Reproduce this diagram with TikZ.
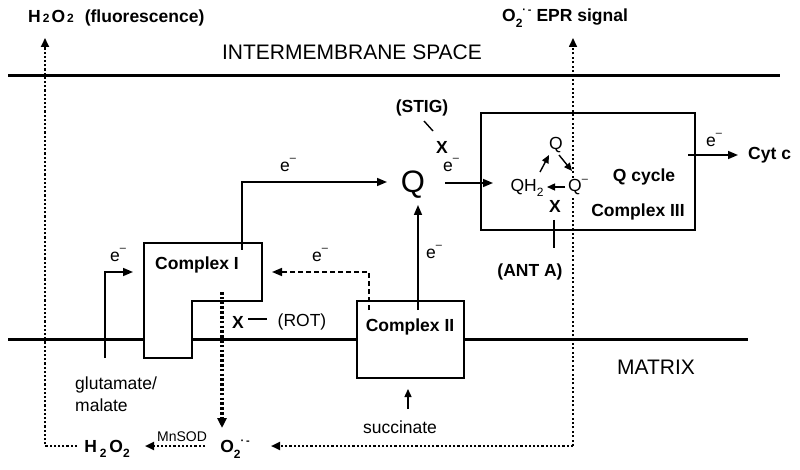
\documentclass[tikz,border=0pt]{standalone}
\usepackage{fontspec}
\setmainfont{Liberation Sans}
\usetikzlibrary{arrows.meta}
\newcommand\fs[1]{\fontsize{#1}{#1}\selectfont}
\newcommand\mysub[1]{\raisebox{-0.3em}{\fs{12}#1}}
\newcommand\mysup[1]{\raisebox{0.5em}{\fs{11}#1}}
\newcommand\elec{e\raisebox{0.55em}{\fs{11}\textendash}}
\newcommand\supox{O\mysub{2}\mysup{·\,-}}
\begin{document}
\begin{tikzpicture}[x=1pt,y=-1pt,
  lbl/.style={font=\fs{17.5}, inner sep=0pt},
  blbl/.style={font=\fs{17.5}\bfseries, inner sep=0pt},
  arr/.style={line width=1.6pt, -{Triangle[length=10pt,width=8pt]}},
  sarr/.style={line width=1.4pt, -{Triangle[length=8pt,width=7pt]}},
  membrane/.style={line width=3pt},
  cbox/.style={draw, line width=2.2pt, fill=white},
  dotsthick/.style={line width=2.2pt, dash pattern=on 2.2pt off 2pt},
  dotsthin/.style={line width=1.6pt, dash pattern=on 2pt off 2.4pt},
  inhib/.style={line width=1.4pt}]
\useasboundingbox (0,0) rectangle (800,470);
% membranes
\draw[membrane] (8,76) -- (780,76);
\draw[membrane] (8,339) -- (748,339);
\node[lbl, font=\fs{21}] (ims) at (352,52) {INTERMEMBRANE SPACE};
\node[lbl, font=\fs{21}] (matrix) at (656,367) {MATRIX};
% top labels
\node[blbl, anchor=west] (h2o2top) at (28,18) {H{\fs{12}\,2\,}O{\fs{12}\,2}\hspace{11pt}(fluorescence)};
\node[blbl, anchor=west] (eprtop) at (502,18) {\supox\ EPR signal};
% Complex I
\draw[cbox] (144,243) -- (262,243) -- (262,301) -- (192,301) -- (192,358) -- (144,358) -- cycle;
\node[blbl] (cI) at (197,265) {Complex I};
% Complex II
\node[cbox, minimum width=107pt, minimum height=77pt, inner sep=0pt] (cII) at (410.5,339.5) {};
\node[blbl] (cIIlbl) at (410,327) {Complex II};
% Complex III
\node[draw, line width=1.4pt, minimum width=214pt, minimum height=117pt, inner sep=0pt] (cIII) at (588,171.5) {};
\node[blbl] (qcyc) at (644,177) {Q cycle};
\node[blbl] (cIIIlbl) at (638,212) {Complex III};
% right dotted vertical (EPR), drawn under Q- label
\coordinate (rc) at (573,446);
\coordinate (rtop) at (573,38);
\draw[dotsthin, -{Triangle[length=9pt,width=8pt]}] (rc) -- (rtop);
% inner Q cycle
\node[lbl] (qin) at (556,145) {Q};
\node[lbl] (qh2) at (527,188) {QH\mysub{2}};
\node[lbl, fill=white, inner sep=1.5pt] (qm) at (578,187) {Q\mysup{\textendash}};
\coordinate (a1s) at (540,172); \coordinate (a1e) at (549,155);
\coordinate (a2s) at (559,155); \coordinate (a2e) at (572,171);
\coordinate (a3s) at (565,187); \coordinate (a3e) at (547,187);
\draw[sarr] (a1s) -- (a1e);
\draw[sarr] (a2s) -- (a2e);
\draw[sarr] (a3s) -- (a3e);
% big Q
\node[lbl, font=\fs{31}] (Q) at (413,185) {Q};
% glutamate input
\node[lbl, anchor=west, align=left] (glu) at (75,394) {glutamate/\\[4pt]malate};
\coordinate (g0) at (105,358); \coordinate (g1) at (133,272);
\draw[arr] (g0) |- (g1);
\node[lbl] (e1) at (118,255) {\elec};
% Complex I -> Q
\coordinate (c1s) at (242,250); \coordinate (c1e) at (387,182);
\draw[arr] (c1s) |- (c1e);
\node[lbl] (e2) at (288,165) {\elec};
% Complex II -> Q
\coordinate (c2s) at (418,310); \coordinate (c2e) at (418,205);
\draw[arr] (c2s) -- (c2e);
\node[lbl] (e3) at (434,252) {\elec};
% Complex II -> Complex I dashed
\coordinate (d1s) at (369,310); \coordinate (d1e) at (272,272);
\draw[arr, dash pattern=on 5pt off 3pt] (d1s) |- (d1e);
\node[lbl] (e4) at (320,255) {\elec};
% Q -> Complex III
\coordinate (q3s) at (445,183); \coordinate (q3e) at (493,183);
\draw[arr] (q3s) -- (q3e);
\node[lbl] (e5) at (451,165) {\elec};
% Complex III -> Cyt c
\node[blbl, anchor=west] (cytc) at (748,155) {Cyt c};
\coordinate (cy0) at (688,155);
\draw[arr, shorten >=10pt] (cy0) -- (cytc.west);
\node[lbl] (e6) at (714,140) {\elec};
% succinate
\node[lbl] (succ) at (400,427) {succinate};
\coordinate (s0) at (408,409); \coordinate (s1) at (408,389);
\draw[sarr] (s0) -- (s1);
% inhibitors
\node[blbl] (stig) at (422,108) {(STIG)};
\node[blbl] (x1) at (442,147) {X};
\draw[inhib] (424,121) -- (433,131);
\node[blbl] (x2) at (555,206) {X};
\node[blbl] (anta) at (530,272) {(ANT A)};
\draw[inhib] (554,220) -- (554,248);
\node[blbl] (x3) at (238,322) {X};
\node[lbl] (rot) at (302,322) {(ROT)};
\draw[inhib] (248,319) -- (267,319);
% bottom ROS
\node[blbl] (h2o2) at (107,449) {H\,\mysub{2}\,O\mysub{2}};
\node[blbl] (o2) at (235,449) {\supox};
\node[lbl, font=\fs{14}] (mnsod) at (182,437) {MnSOD};
\coordinate (ci0) at (222,292); \coordinate (ci1) at (222,428);
\draw[line width=4pt, dash pattern=on 2.6pt off 2.2pt, -{Triangle[length=10pt,width=9pt]}] (ci0) -- (ci1);
\draw[dotsthick, -{Triangle[length=9pt,width=8pt]}] (205,446) -- (145,446);
\draw[dotsthick, -{Triangle[length=9pt,width=8pt]}] (rc) -- (271,446);
\coordinate (lc) at (77,446); \coordinate (ltop) at (45,38);
\draw[dotsthick, -{Triangle[length=9pt,width=8pt]}] (lc) -| (ltop);
\end{tikzpicture}
\end{document}
